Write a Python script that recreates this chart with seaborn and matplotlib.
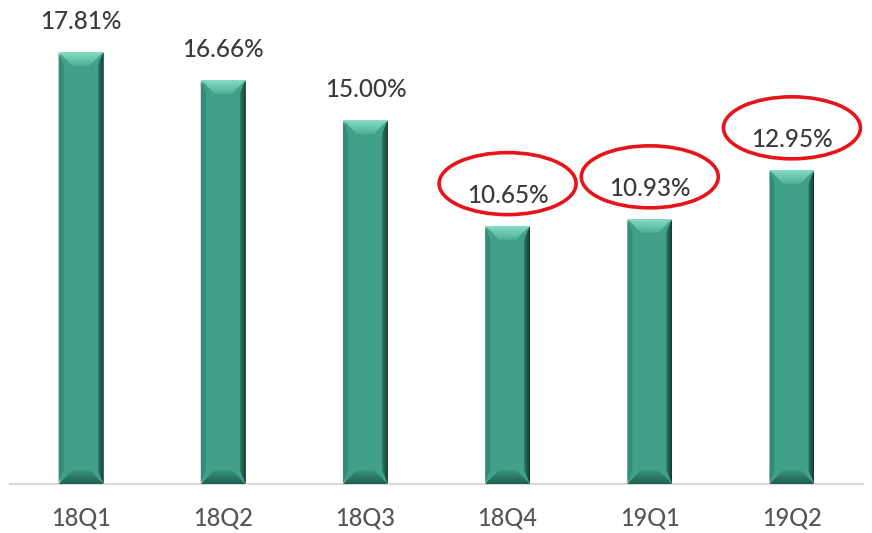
import matplotlib
matplotlib.use("Agg")
import matplotlib.pyplot as plt
import numpy as np
import seaborn as sns
from matplotlib.patches import Polygon, Ellipse
from matplotlib.colors import LinearSegmentedColormap

#%% Data
quarters = ['18Q1', '18Q2', '18Q3', '18Q4', '19Q1', '19Q2']
rates = [17.81, 16.66, 15.00, 10.65, 10.93, 12.95]
circled = ['18Q4', '19Q1', '19Q2']

#%% Style
sns.set_style('white')
plt.rcParams['font.family'] = ['Lato', 'DejaVu Sans']

fig = plt.figure(figsize=(8.72, 5.33), dpi=100)
ax = fig.add_axes([10/872, 49/533, 853/872, 436.7/533])

ax = sns.barplot(x=quarters, y=rates, color='#40a088', saturation=1,
                 width=0.316, ax=ax, zorder=2)
ax.set_xlim(-0.5, 5.5)
ax.set_ylim(0, 18)

# pixel size in data units (for the bevel and the ellipses)
px_x = 6.0 / 853
px_y = 18.0 / 436.7


def grad_fill(ax, poly, extent, colors, horizontal):
    # gradient image clipped to a polygon
    cmap = LinearSegmentedColormap.from_list('g', colors)
    g = np.linspace(0, 1, 64)
    img = g.reshape(1, -1) if horizontal else g.reshape(-1, 1)
    ax.add_patch(poly)
    im = ax.imshow(img, extent=extent, cmap=cmap, aspect='auto',
                   origin='lower', zorder=3, interpolation='bilinear')
    im.set_clip_path(poly)


#%% Bevel effect on bars
for p in ax.patches[:len(rates)]:
    x0 = p.get_x()
    x1 = x0 + p.get_width()
    h = p.get_height()
    d = 14 * px_x
    dy = 14 * px_y
    s = 6 * px_x
    # left edge
    left = Polygon([(x0, 0), (x0 + 5 * px_x, dy), (x0 + 5 * px_x, h - dy), (x0, h)],
                   closed=True, facecolor='#348a74', edgecolor='none', zorder=3)
    ax.add_patch(left)
    # right edge, dark gradient
    right = Polygon([(x1, 0), (x1, h), (x1 - s, h - dy), (x1 - s, dy)],
                    closed=True, facecolor='none', edgecolor='none', zorder=3)
    grad_fill(ax, right, [x1 - s, x1, 0, h], ['#2e806b', '#0f3a30'], True)
    # bottom bevel
    bot = Polygon([(x0, 0), (x1, 0), (x1 - d, dy), (x0 + d, dy)],
                  closed=True, facecolor='none', edgecolor='none', zorder=3)
    grad_fill(ax, bot, [x0, x1, 0, dy], ['#1f5f4f', '#3a957e'], False)
    # top bevel, light gradient
    top = Polygon([(x0, h), (x1, h), (x1 - d, h - dy), (x0 + d, h - dy)],
                  closed=True, facecolor='none', edgecolor='none', zorder=3)
    grad_fill(ax, top, [x0, x1, h - dy, h], ['#4db095', '#86dcc2'], False)

ax.set_xlim(-0.5, 5.5)
ax.set_ylim(0, 18)

#%% Labels and ellipses
for i, (q, v) in enumerate(zip(quarters, rates)):
    ax.annotate(f'{v:.2f}%', (i, v), xytext=(0, 22), textcoords='offset points',
                ha='center', va='center', fontsize=17.5, color='#3a3a3a',
                fontweight='medium', annotation_clip=False)
    if q in circled:
        e = Ellipse((i, v + 42 * px_y), 137 * px_x, 62 * px_y, fill=False,
                    edgecolor='#e8141b', linewidth=2.6, clip_on=False, zorder=4)
        ax.add_patch(e)

#%% Axes cosmetics
sns.despine(ax=ax, left=True)
ax.spines['bottom'].set_color('#d9d9d9')
ax.spines['bottom'].set_linewidth(1.5)
ax.set_yticks([])
ax.set_xlabel('')
ax.set_ylabel('')
ax.tick_params(axis='x', length=0, pad=16, labelsize=17, labelcolor='#555555')
for t in ax.get_xticklabels():
    t.set_fontweight('medium')

plt.savefig('out.png', dpi=100)
